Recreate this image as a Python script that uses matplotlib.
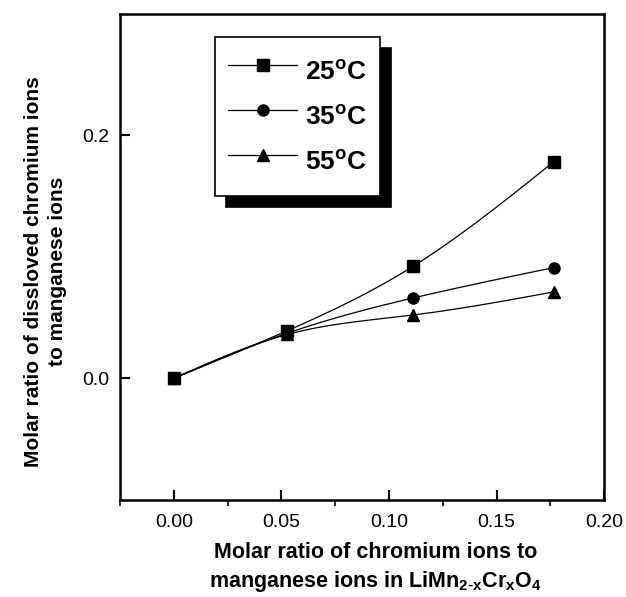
import numpy as np
import matplotlib.pyplot as plt
from matplotlib.ticker import MultipleLocator

# molar ratio Cr/Mn in LiMn(2-x)CrxO4
cr_ratio = [0.0, 0.0526, 0.1111, 0.1765]
t25 = [0.0, 0.039, 0.092, 0.178]
t35 = [0.0, 0.037, 0.066, 0.091]
t55 = [0.0, 0.036, 0.052, 0.071]
labels = ['25$^\\mathregular{o}$C', '35$^\\mathregular{o}$C', '55$^\\mathregular{o}$C']
markers = ['s', 'o', '^']

plt.rcParams['font.family'] = ['Liberation Sans', 'DejaVu Sans']


def spline(x, y, n=200):
    # natural cubic spline, just for the smooth connecting line
    x = np.asarray(x, float)
    y = np.asarray(y, float)
    k = len(x)
    h = np.diff(x)
    A = np.zeros((k, k))
    b = np.zeros(k)
    A[0, 0] = A[-1, -1] = 1
    for i in range(1, k - 1):
        A[i, i - 1] = h[i - 1]
        A[i, i] = 2 * (h[i - 1] + h[i])
        A[i, i + 1] = h[i]
        b[i] = 6 * ((y[i + 1] - y[i]) / h[i] - (y[i] - y[i - 1]) / h[i - 1])
    M = np.linalg.solve(A, b)
    xs = np.linspace(x[0], x[-1], n)
    idx = np.clip(np.searchsorted(x, xs) - 1, 0, k - 2)
    x0, x1 = x[idx], x[idx + 1]
    hh = x1 - x0
    ys = (M[idx] * (x1 - xs) ** 3 / (6 * hh) + M[idx + 1] * (xs - x0) ** 3 / (6 * hh)
          + (y[idx] / hh - M[idx] * hh / 6) * (x1 - xs)
          + (y[idx + 1] / hh - M[idx + 1] * hh / 6) * (xs - x0))
    return xs, ys


fig = plt.figure(figsize=(6.26, 5.97), dpi=100)
ax = fig.add_axes([0.192, 0.163, 0.773, 0.814])

handles = []
for ys, m, lab in zip([t25, t35, t55], markers, labels):
    sx, sy = spline(cr_ratio, ys)
    ax.plot(sx, sy, color='black', lw=0.9)
    ax.plot(cr_ratio, ys, ls='none', marker=m, color='black', ms=8)
    h, = ax.plot([], [], color='black', lw=0.9, marker=m, ms=8, label=lab)
    handles.append(h)

ax.set_xlim(-0.025, 0.2)
ax.set_ylim(-0.1, 0.3)
ax.xaxis.set_major_locator(MultipleLocator(0.05))
ax.xaxis.set_minor_locator(MultipleLocator(0.025))
ax.set_yticks([0.0, 0.2])
ax.xaxis.set_major_formatter(plt.FormatStrFormatter('%.2f'))
ax.yaxis.set_major_formatter(plt.FormatStrFormatter('%.1f'))
ax.tick_params(direction='in', labelsize=14, width=1.5)
ax.tick_params(which='major', length=7)
ax.tick_params(which='minor', length=4, width=1.2)
ax.tick_params(axis='x', pad=10)
ax.tick_params(axis='y', pad=8)
for s in ax.spines.values():
    s.set_linewidth(1.8)

ax.set_xlabel('Molar ratio of chromium ions to\nmanganese ions in LiMn$_\\mathregular{2\\text{-}x}$Cr$_\\mathregular{x}$O$_\\mathregular{4}$',
              fontsize=15.5, fontweight='bold', linespacing=1.35)
ax.set_ylabel('Molar ratio of dissloved chromium ions\nto manganese ions',
              fontsize=15, fontweight='bold', linespacing=1.35)
ax.xaxis.set_label_coords(0.527, -0.087)
ax.yaxis.set_label_coords(-0.110, 0.47)

leg = ax.legend(handles=handles, loc='upper left', bbox_to_anchor=(0.196, 0.953),
                borderaxespad=0, prop={'size': 19, 'weight': 'bold'}, handlelength=2.6,
                handleheight=2.1, labelspacing=0.1, borderpad=0.5, handletextpad=0.3,
                frameon=True, fancybox=False, edgecolor='black',
                shadow={'color': 'black', 'alpha': 1, 'ox': 8, 'oy': -8})
leg.get_frame().set_linewidth(1.2)

fig.savefig('out.png', dpi=100)
